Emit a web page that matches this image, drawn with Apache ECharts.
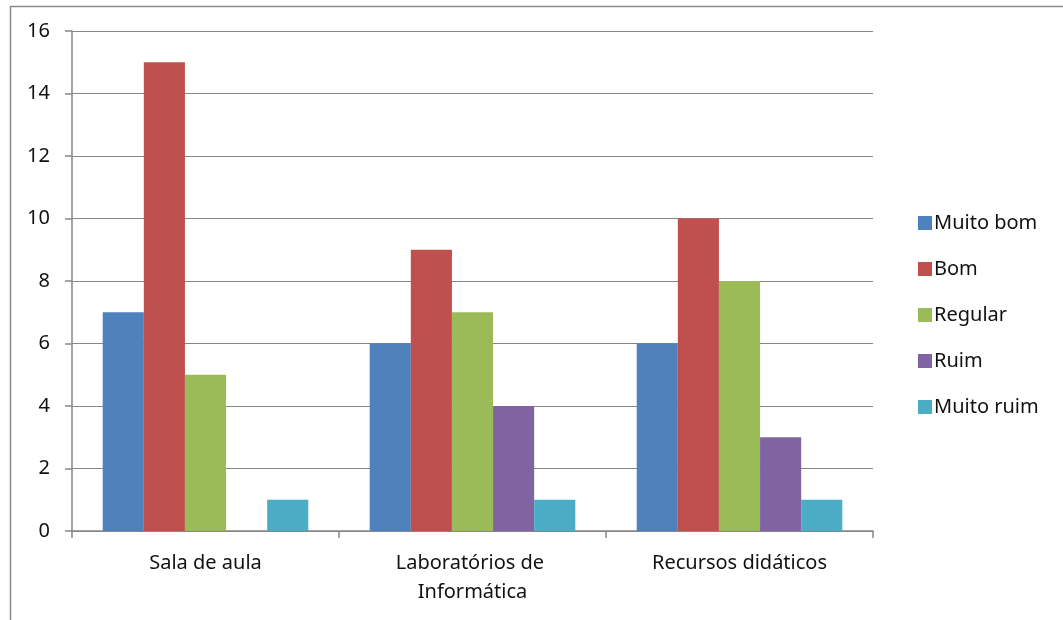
<!DOCTYPE html>
<html>
<head>
<meta charset="utf-8">
<script src="https://cdn.jsdelivr.net/npm/echarts@6/dist/echarts.min.js"></script>
<style>
html,body{margin:0;padding:0;background:#fff;}
#c{width:1063px;height:620px;}
</style>
</head>
<body>
<div id="c"></div>
<script>
const categories = ['Sala de aula', 'Laboratórios de Informática', 'Recursos didáticos'];
const seriesNames = ['Muito bom', 'Bom', 'Regular', 'Ruim', 'Muito ruim'];
const muitoBom = [7, 6, 6];
const bom = [15, 9, 10];
const regular = [5, 7, 8];
const ruim = [0, 4, 3];
const muitoRuim = [1, 1, 1];
const yTicks = [0, 2, 4, 6, 8, 10, 12, 14, 16];

const colors = ['#4F81BD', '#C0504D', '#9BBB59', '#8064A2', '#4BACC6'];
const values = [muitoBom, bom, regular, ruim, muitoRuim];
const font = 'Noto Sans';

const chart = echarts.init(document.getElementById('c'));
chart.setOption({
  animation: false,
  color: colors,
  textStyle: {fontFamily: font},
  graphic: [{
    type: 'rect', left: 8, top: 4,
    shape: {width: 1200, height: 800},
    style: {fill: 'none', stroke: '#8c8c8c', lineWidth: 1.5}
  }],
  grid: {left: 72, top: 31, right: 190, bottom: 89, containLabel: false},
  legend: {
    orient: 'vertical', left: 913, top: 207,
    itemWidth: 14, itemHeight: 14, itemGap: 24,
    icon: 'rect',
    textStyle: {fontFamily: font, fontSize: 20, color: '#111', lineHeight: 22, padding: [0,0,0,-3]},
    data: seriesNames
  },
  xAxis: {
    type: 'category', data: categories,
    axisLine: {lineStyle: {color: '#868686', width: 1.5}},
    axisTick: {show: true, length: 7, lineStyle: {color: '#868686', width: 1.5}},
    axisLabel: {fontSize: 20, color: '#111', margin: 18, lineHeight: 29, width: 220, overflow: 'break', interval: 0}
  },
  yAxis: {
    type: 'value', min: 0, max: 16, interval: 2,
    axisLine: {show: true, lineStyle: {color: '#868686', width: 1.5}},
    axisTick: {show: true, length: 7, lineStyle: {color: '#868686', width: 1.5}},
    splitLine: {lineStyle: {color: '#868686', width: 1.2}},
    axisLabel: {fontSize: 20, color: '#111', margin: 22, formatter: v => yTicks.includes(v) ? String(v) : ''}
  },
  series: seriesNames.map((n, i) => ({
    name: n, type: 'bar', data: values[i],
    barGap: '0%', barCategoryGap: '23%',
    itemStyle: {color: colors[i]}
  }))
});
</script>
</body>
</html>
